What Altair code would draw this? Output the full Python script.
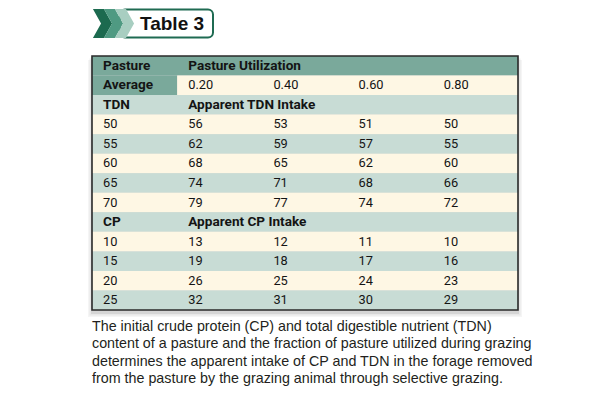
import altair as alt
import pandas as pd

# ---------------- data ----------------
util_levels = ["0.20", "0.40", "0.60", "0.80"]
tdn_levels = [50, 55, 60, 65, 70]
tdn_intake = [
    [56, 53, 51, 50],
    [62, 59, 57, 55],
    [68, 65, 62, 60],
    [74, 71, 68, 66],
    [79, 77, 74, 72],
]
cp_levels = [10, 15, 20, 25]
cp_intake = [
    [13, 12, 11, 10],
    [19, 18, 17, 16],
    [26, 25, 24, 23],
    [32, 31, 30, 29],
]
header_left = ["Pasture", "Average"]
header_top = "Pasture Utilization"
tdn_header = ["TDN", "Apparent TDN Intake"]
cp_header = ["CP", "Apparent CP Intake"]
table_title = "Table 3"
caption_lines = [
    "The initial crude protein (CP) and total digestible nutrient (TDN)",
    "content of a pasture and the fraction of pasture utilized during grazing",
    "determines the apparent intake of CP and TDN in the forage removed",
    "from the pasture by the grazing animal through selective grazing.",
]

# ---------------- styles ----------------
TEAL_DARK = "#7aa99b"
TEAL_LIGHT = "#c8dcd5"
CREAM = "#fef7e4"
TEXT = "#141414"
TFONT = "Roboto, Liberation Sans, sans-serif"
N_COLS = 5

# ---------------- build tables ----------------
bg_rows = []
bg_rows.append(dict(r0=0, r1=1, c0=0, c1=N_COLS, fill=TEAL_DARK))
bg_rows.append(dict(r0=1, r1=2, c0=0, c1=1, fill=TEAL_DARK))
bg_rows.append(dict(r0=1, r1=2, c0=1, c1=N_COLS, fill=CREAM))

bold_cells = []
reg_cells = []
bold_cells.append(dict(row=0, col=0, text=header_left[0]))
bold_cells.append(dict(row=1, col=0, text=header_left[1]))
bold_cells.append(dict(row=0, col=1, text=header_top))
for j, u in enumerate(util_levels):
    reg_cells.append(dict(row=1, col=j + 1, text=u))

row = 2
for header, levels, vals in [(tdn_header, tdn_levels, tdn_intake),
                             (cp_header, cp_levels, cp_intake)]:
    bold_cells.append(dict(row=row, col=0, text=header[0]))
    bold_cells.append(dict(row=row, col=1, text=header[1]))
    row += 1
    for lvl, vs in zip(levels, vals):
        reg_cells.append(dict(row=row, col=0, text=str(lvl)))
        for j, v in enumerate(vs):
            reg_cells.append(dict(row=row, col=j + 1, text=str(v)))
        row += 1
N_ROWS = row
for r in range(2, N_ROWS):
    bg_rows.append(dict(r0=r, r1=r + 1, c0=0, c1=N_COLS,
                        fill=TEAL_LIGHT if r % 2 == 0 else CREAM))

bg_df = pd.DataFrame(bg_rows)
bold_df = pd.DataFrame(bold_cells)
bold_df["yc"] = bold_df["row"] + 0.5
reg_df = pd.DataFrame(reg_cells)
reg_df["yc"] = reg_df["row"] + 0.5
frame_df = pd.DataFrame([dict(r0=0, r1=N_ROWS, c0=0, c1=N_COLS)])

xs = alt.Scale(domain=[0, N_COLS], range=[84, 510], nice=False, zero=False)
ys = alt.Scale(domain=[0, N_ROWS], range=[48, 302], nice=False, zero=False)

# shadow
shadows = []
for k, op in [(5, 0.06), (3.5, 0.08), (2, 0.12)]:
    shadows.append(
        alt.Chart(frame_df).mark_rect(
            color="#555555", opacity=op,
            xOffset=-k + 1, x2Offset=k - 1, yOffset=k - 1, y2Offset=k + 2,
        ).encode(
            x=alt.X("c0:Q", scale=xs, axis=None),
            x2="c1:Q",
            y=alt.Y("r0:Q", scale=ys, axis=None),
            y2="r1:Q",
        )
    )

bg = alt.Chart(bg_df).mark_rect(strokeWidth=0).encode(
    x=alt.X("c0:Q", scale=xs, axis=None),
    x2="c1:Q",
    y=alt.Y("r0:Q", scale=ys, axis=None),
    y2="r1:Q",
    color=alt.Color("fill:N", scale=None),
)

frame = alt.Chart(frame_df).mark_rect(
    fill=None, stroke="#2a2a2a", strokeWidth=1.6
).encode(
    x=alt.X("c0:Q", scale=xs, axis=None),
    x2="c1:Q",
    y=alt.Y("r0:Q", scale=ys, axis=None),
    y2="r1:Q",
)

bold_text = alt.Chart(bold_df).mark_text(
    align="left", baseline="middle", dx=11, font=TFONT,
    fontSize=13.6, fontWeight="bold", color=TEXT,
).encode(
    x=alt.X("col:Q", scale=xs, axis=None),
    y=alt.Y("yc:Q", scale=ys, axis=None),
    text="text:N",
)

reg_text = alt.Chart(reg_df).mark_text(
    align="left", baseline="middle", dx=11, font=TFONT,
    fontSize=12.8, color=TEXT,
).encode(
    x=alt.X("col:Q", scale=xs, axis=None),
    y=alt.Y("yc:Q", scale=ys, axis=None),
    text="text:N",
)

# title badge
one = pd.DataFrame({"t": [table_title]})
badge = alt.Chart(one).mark_rect(
    fill="white", stroke="#1f6b52", strokeWidth=2, cornerRadius=5
).encode(x=alt.value(112), x2=alt.value(205), y=alt.value(1.5), y2=alt.value(29.5))

CHEVRON = "M -0.66 -1 L 0.1 -1 L 0.66 0 L 0.1 1 L -0.66 1 L -0.1 0 Z"
chev_df = pd.DataFrame({
    "cx": [94.5, 105.5, 116.5],
    "fill": ["#1c6a4f", "#4f9a82", "#a8cec1"],
})
chevrons = alt.Chart(chev_df).mark_point(
    shape=CHEVRON, filled=True, size=841, opacity=1, strokeWidth=0
).encode(
    x=alt.X("cx:Q", scale=alt.Scale(domain=[0, 594], range=[0, 594]), axis=None),
    y=alt.value(15.5),
    color=alt.Color("fill:N", scale=None),
)

title_text = alt.Chart(one).mark_text(
    align="left", baseline="middle", font="Liberation Sans, Arial, sans-serif",
    fontSize=19, fontWeight="bold", color="#111111",
).encode(x=alt.value(132), y=alt.value(16), text="t:N")

caption = alt.Chart(one).mark_text(
    align="left", baseline="top", font="Liberation Sans, Arial, sans-serif",
    fontSize=14.3, color="#231f20", lineBreak="\n", lineHeight=17.6,
    text="\n".join(caption_lines),
).encode(x=alt.value(84), y=alt.value(311.5))

chart = alt.layer(
    *shadows, bg, frame, bold_text, reg_text, badge, chevrons, title_text, caption
).resolve_scale(x="independent").properties(
    width=594, height=385, padding=0,
    autosize=alt.AutoSizeParams(type="none"),
    background="white",
).configure_view(stroke=None)

chart.save("out.html", embed_options={"renderer": "svg", "actions": False})
